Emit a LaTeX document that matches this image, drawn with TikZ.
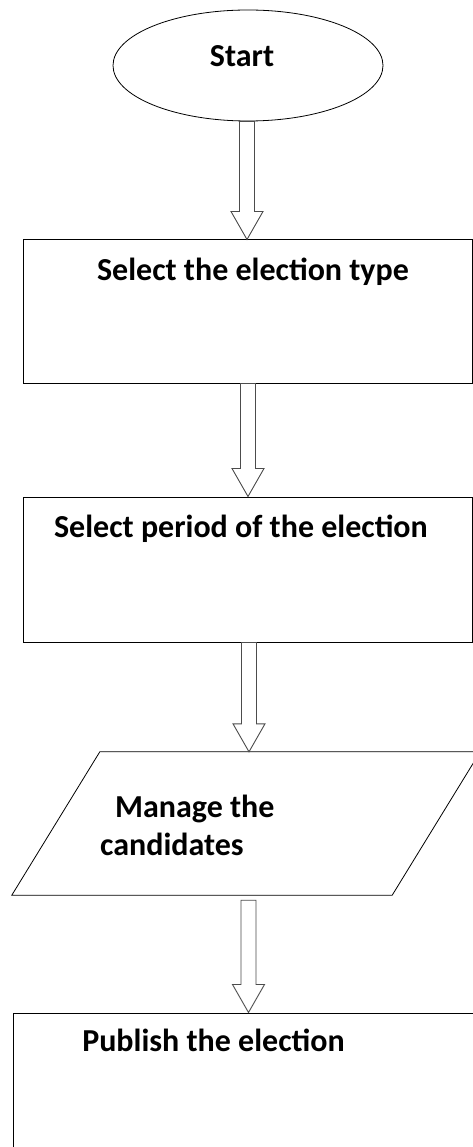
\documentclass[tikz,border=0pt]{standalone}
\usepackage{fontspec}
\setmainfont{Carlito}
\usetikzlibrary{shapes.geometric,calc}
\tikzset{
  boxshape/.style={draw=black, line width=1pt, rectangle, inner sep=0pt},
  startshape/.style={draw=black, line width=0.8pt, ellipse, inner sep=0pt,
    minimum width=270pt, minimum height=111pt},
  dataframe/.style={rectangle, inner sep=0pt, minimum width=468pt, minimum height=143pt},
  dataline/.style={draw=black, line width=0.8pt, line join=miter},
  lbl/.style={font=\bfseries\fontsize{32}{38}\selectfont, inner sep=0pt, anchor=base},
  blockarrow/.style={draw=black!70, line width=0.9pt, line join=miter}
}
% #1 source node, #2 target node, #3 x shift, #4 gap below source
\newcommand\blockarr[4]{%
  \draw[blockarrow] let \p1=(#1.south), \p2=(#2.north) in
    (\x1+#3-7.5,\y1-#4) -- (\x1+#3-7.5,\y2+28) -- (\x1+#3-16,\y2+28) --
    (\x1+#3,\y2) -- (\x1+#3+16,\y2+28) -- (\x1+#3+7.5,\y2+28) --
    (\x1+#3+7.5,\y1-#4) -- cycle;}
\begin{document}
\begin{tikzpicture}[x=1pt,y=-1pt]
  \path[use as bounding box, clip] (0,0) rectangle (473,1147);
  \fill[white] (0,0) rectangle (473,1147);

  \node[startshape] (start) at (248,65.5) {};
  \node[lbl] (tstart) at (242,67) {Start};

  \node[boxshape, minimum width=449pt, minimum height=143pt] (b1) at (247.5,311.5) {};
  \node[lbl] (t1) at (253,280) {Select the election type};

  \node[boxshape, minimum width=449pt, minimum height=145pt] (b2) at (247.5,569.5) {};
  \node[lbl] (t2) at (241,537) {Select period of the election};

  \node[dataframe] (p3) at (246,823.5) {};
  \draw[dataline] (p3.south west) -- ($(p3.north west)+(88,0)$) -- (p3.north east)
    -- ($(p3.south east)+(-88,0)$) -- cycle;
  \node[lbl, anchor=base west] (t3a) at (115,817) {Manage the};
  \node[lbl, anchor=base west] (t3b) at (100,855) {candidates};

  \node[boxshape, minimum width=480pt, minimum height=160pt] (b4) at (253,1093) {};
  \node[lbl] (t4) at (213.5,1051) {Publish the election};

  \blockarr{start}{b1}{-1}{0}
  \blockarr{b1}{b2}{0.5}{0}
  \blockarr{b2}{p3}{1.5}{0}
  \blockarr{p3}{b4}{2.5}{5}
\end{tikzpicture}
\end{document}
